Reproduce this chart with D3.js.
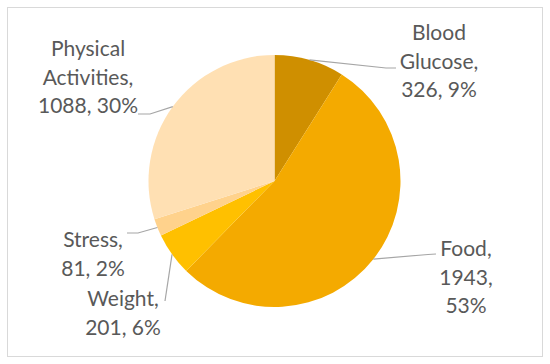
<!DOCTYPE html>
<html>
<head>
<meta charset="utf-8">
<script src="https://cdn.jsdelivr.net/npm/d3@7"></script>
<style>
  body { margin: 0; background: #fff; }
  svg text { font-family: Lato, "Open Sans", sans-serif; fill: #595959; }
</style>
</head>
<body>
<div id="chart"></div>
<script>
// data, clockwise from 12 o'clock
var categories = ["Blood Glucose", "Food", "Weight", "Stress", "Physical Activities"];
var values = [326, 1943, 201, 81, 1088];
var colors = ["#cf8f00", "#f4aa00", "#ffc000", "#ffd28c", "#ffe0b3"];

// how many label tokens go on each line
var lineGroups = [[1, 1, 2], [1, 1, 1], [1, 2], [1, 2], [1, 1, 2]];
// label spot (centre x, first baseline) and leader elbow/end points
var labelPos = [[439, 40], [466, 256], [123, 306], [93, 247], [88, 56]];
var leaderPts = [
    [[386, 68], [396, 68]],
    [[428, 254.5], [436, 254]],
    [[165, 301]],
    [[138, 233], [127, 233]],
    [[150, 114], [138, 114]]
];

var w = 550, h = 364;
var cx = 274.5, cy = 181, r = 126;
var lineH = 28.5;

var svg = d3.select("#chart").append("svg")
    .attr("width", w)
    .attr("height", h);

// outer frame
svg.append("rect")
    .attr("x", 7.5).attr("y", 7.5)
    .attr("width", 535).attr("height", 349)
    .attr("fill", "none")
    .attr("stroke", "#d9d9d9")
    .attr("stroke-width", 1);

var total = d3.sum(values);
var data = categories.map(function(c, i) { return {name: c, value: values[i], i: i}; });

var pie = d3.pie().sort(null).value(function(d) { return d.value; });
var arc = d3.arc().innerRadius(0).outerRadius(r);
var arcs = pie(data);

var g = svg.append("g")
    .attr("transform", "translate(" + cx + "," + cy + ")");

g.selectAll("path")
    .data(arcs)
  .enter().append("path")
    .attr("d", arc)
    .attr("fill", function(d) { return colors[d.data.i]; });

// leader lines
var line = d3.line();
svg.selectAll("path.leader")
    .data(arcs)
  .enter().append("path")
    .attr("class", "leader")
    .attr("fill", "none")
    .attr("stroke", "#a6a6a6")
    .attr("stroke-width", 1.2)
    .attr("d", function(d) {
        var a = (d.startAngle + d.endAngle) / 2;
        var start = [cx + r * Math.sin(a), cy - r * Math.cos(a)];
        return line([start].concat(leaderPts[d.data.i]));
    });

// labels
arcs.forEach(function(d) {
    var i = d.data.i;
    var words = d.data.name.split(" ");
    words[words.length - 1] += ",";
    var pct = Math.round(d.data.value / total * 100);
    var tokens = words.concat([d.data.value + ",", pct + "%"]);
    var lines = [], k = 0;
    lineGroups[i].forEach(function(n) {
        lines.push(tokens.slice(k, k + n).join(" "));
        k += n;
    });
    var t = svg.append("text")
        .attr("text-anchor", "middle")
        .attr("font-size", 21);
    lines.forEach(function(s, j) {
        t.append("tspan")
            .attr("x", labelPos[i][0])
            .attr("y", labelPos[i][1] + j * lineH)
            .text(s);
    });
});
</script>
</body>
</html>
